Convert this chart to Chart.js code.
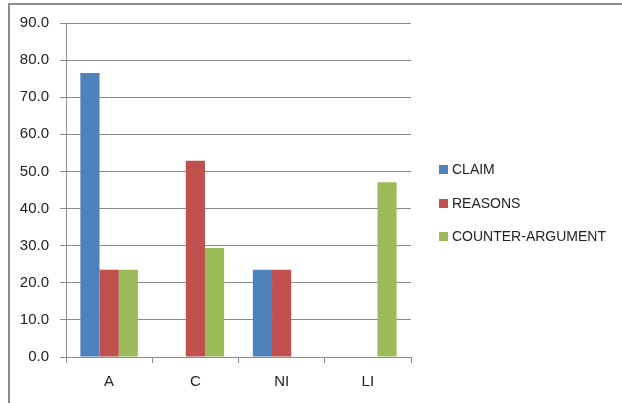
<!DOCTYPE html>
<html>
<head>
<meta charset="utf-8">
<script src="https://cdn.jsdelivr.net/npm/chart.js@4"></script>
<style>
  html, body { margin: 0; padding: 0; background: #fff; }
  #wrap { position: relative; width: 622px; height: 403px; }
  #frame { position: absolute; left: 8px; top: 3px; right: 0; bottom: 0;
           border-left: 2px solid #8c8c8c; border-top: 2px solid #8c8c8c; }
  #legend { position: absolute; left: 439px; top: 161px; font: 14px "Liberation Sans", Arial, sans-serif; color: #222; }
  #legend div { height: 17px; line-height: 17px; margin-bottom: 16.5px; white-space: nowrap; }
  #legend span { display: inline-block; width: 9px; height: 9px; margin-right: 4px; vertical-align: 0px; }
</style>
</head>
<body>
<div id="wrap">
  <div id="frame"></div>
  <canvas id="chart" width="622" height="403"></canvas>
  <div id="legend"></div>
</div>
<script>
const categories = ['A', 'C', 'NI', 'LI'];
const claim = [76.5, 0, 23.5, 0];
const reasons = [23.5, 52.9, 23.5, 0];
const counterArgument = [23.5, 29.4, 0, 47.1];
const seriesNames = ['CLAIM', 'REASONS', 'COUNTER-ARGUMENT'];
const seriesColors = ['#4F81BD', '#C0504D', '#9BBB59'];

const gridColor = '#8c8c8c';
const tickFont = { family: '"Liberation Sans", Arial, sans-serif', size: 15 };

// html legend, the chart's own one is switched off
const legendEl = document.getElementById('legend');
seriesNames.forEach((name, i) => {
  const row = document.createElement('div');
  row.innerHTML = `<span style="background:${seriesColors[i]}"></span>${name}`;
  legendEl.appendChild(row);
});

const ctx = document.getElementById('chart').getContext('2d');
new Chart(ctx, {
  type: 'bar',
  data: {
    labels: categories,
    datasets: [claim, reasons, counterArgument].map((data, i) => ({
      label: seriesNames[i],
      data: data,
      backgroundColor: seriesColors[i],
      borderWidth: 0,
      barPercentage: 1,
      categoryPercentage: 0.667
    }))
  },
  options: {
    responsive: false,
    animation: false,
    layout: { padding: { left: 0, top: 23, right: 211, bottom: 0 } },
    plugins: { legend: { display: false }, tooltip: { enabled: false } },
    scales: {
      x: {
        grid: { offset: true, drawOnChartArea: false, drawTicks: true, tickLength: 6, color: gridColor },
        border: { color: gridColor, width: 1 },
        ticks: { color: '#222', font: tickFont, padding: 10 },
        afterFit: (scale) => { scale.height = 46; }
      },
      y: {
        min: 0,
        max: 90,
        grid: { color: gridColor, tickLength: 6 },
        border: { color: gridColor, width: 1 },
        ticks: {
          stepSize: 10,
          color: '#222',
          font: tickFont,
          padding: 11,
          callback: (v) => v.toFixed(1)
        },
        afterFit: (scale) => { scale.width = 66; }
      }
    }
  }
});
</script>
</body>
</html>
